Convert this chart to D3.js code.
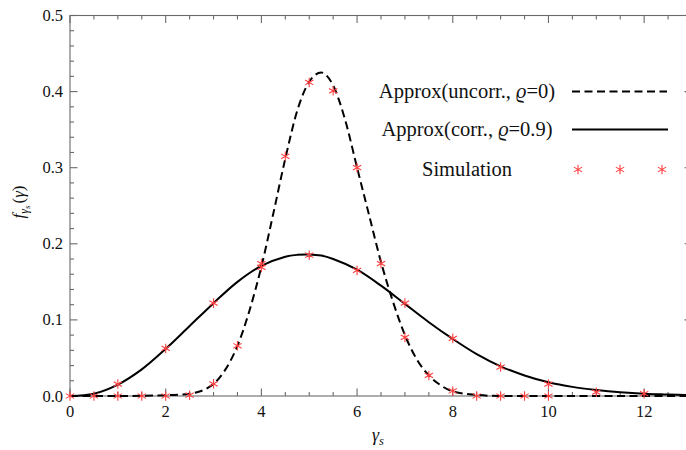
<!DOCTYPE html>
<html>
<head>
<meta charset="utf-8">
<script src="https://cdn.jsdelivr.net/npm/d3@7"></script>
<style>
  html, body { margin: 0; padding: 0; background: #fff; }
  svg { display: block; font-family: "Liberation Serif", "Times New Roman", serif; }
</style>
</head>
<body>
<svg id="chart" width="686" height="450"></svg>
<script>
// PDF of the combined SNR: analytic approximations and simulated samples

// Approximation, uncorrelated branches (rho = 0)
const uncorrX = [0, 1, 2, 2.5, 3, 3.25, 3.5, 3.75, 4, 4.25, 4.5, 4.75, 5, 5.25, 5.5, 5.75, 6, 6.25, 6.5, 6.75, 7, 7.25, 7.5, 7.75, 8, 8.5, 9, 10, 13];
const uncorrY = [0, 0, 0.001, 0.003, 0.016, 0.035, 0.066, 0.112, 0.170, 0.240, 0.312, 0.375, 0.413, 0.425, 0.408, 0.363, 0.300, 0.238, 0.176, 0.124, 0.080, 0.048, 0.027, 0.014, 0.006, 0.0015, 0, 0, 0];

// Approximation, correlated branches (rho = 0.9)
const corrX = [0, 0.5, 1, 1.5, 2, 2.5, 3, 3.5, 4, 4.5, 4.75, 5, 5.25, 5.5, 6, 6.5, 7, 7.5, 8, 8.5, 9, 9.5, 10, 10.5, 11, 11.5, 12, 12.5, 13];
const corrY = [0, 0.003, 0.015, 0.035, 0.062, 0.092, 0.122, 0.150, 0.171, 0.183, 0.1855, 0.186, 0.1845, 0.180, 0.166, 0.145, 0.121, 0.097, 0.075, 0.055, 0.039, 0.027, 0.018, 0.012, 0.008, 0.005, 0.003, 0.002, 0.001];

// Simulation samples
const simUncorrX = [0, 0.5, 1, 1.5, 2, 2.5, 3, 3.5, 4, 4.5, 5, 5.5, 6, 6.5, 7, 7.5, 8, 8.5, 9, 9.5, 10];
const simUncorrY = [0, 0, 0, 0, 0, 0.001, 0.016, 0.066, 0.169, 0.315, 0.412, 0.401, 0.300, 0.174, 0.077, 0.027, 0.0066, 0, 0, 0, 0];
const simCorrX = [1, 2, 3, 4, 5, 6, 7, 8, 9, 10, 11, 12];
const simCorrY = [0.0157, 0.0625, 0.122, 0.174, 0.185, 0.165, 0.122, 0.0757, 0.038, 0.0157, 0.005, 0.003];

// Axes ticks
const xMajorTicks = [0, 2, 4, 6, 8, 10, 12];
const yMajorTicks = [0, 0.1, 0.2, 0.3, 0.4, 0.5];

// Legend entries
const legendLabels = ["Approx(uncorr., ", "Approx(corr., ", "Simulation"];
const legendRho = ["=0)", "=0.9)", null];

const svg = d3.select("#chart");
const pLeft = 70, pRight = 692, pTop = 15.5, pBottom = 396;

const x = d3.scaleLinear().domain([0, 13]).range([pLeft, pRight]);
const y = d3.scaleLinear().domain([0, 0.5]).range([pBottom, pTop]);

const tickColor = "#6a6a6a";

// Frame
svg.append("rect")
  .attr("x", pLeft).attr("y", pTop)
  .attr("width", pRight - pLeft).attr("height", pBottom - pTop)
  .attr("fill", "none").attr("stroke", tickColor).attr("stroke-width", 1.1);

const xMinor = d3.range(0, 13.01, 0.5).filter(v => !xMajorTicks.includes(v));
const yMinor = d3.range(0, 0.501, 0.02).map(v => +v.toFixed(2)).filter(v => !yMajorTicks.some(t => Math.abs(t - v) < 1e-9));

const ticks = svg.append("g").attr("stroke", tickColor).attr("stroke-width", 1.1);
function xTick(v, len) {
  ticks.append("line").attr("x1", x(v)).attr("x2", x(v)).attr("y1", pBottom).attr("y2", pBottom - len);
  ticks.append("line").attr("x1", x(v)).attr("x2", x(v)).attr("y1", pTop).attr("y2", pTop + len);
}
function yTick(v, len) {
  ticks.append("line").attr("y1", y(v)).attr("y2", y(v)).attr("x1", pLeft).attr("x2", pLeft + len);
  ticks.append("line").attr("y1", y(v)).attr("y2", y(v)).attr("x1", pRight).attr("x2", pRight - len);
}
xMajorTicks.forEach(v => xTick(v, 7.5));
xMinor.forEach(v => xTick(v, 4));
yMajorTicks.forEach(v => yTick(v, 7.5));
yMinor.forEach(v => yTick(v, 4));

// Tick labels
svg.append("g").selectAll("text").data(xMajorTicks).join("text")
  .attr("x", d => x(d)).attr("y", pBottom + 21)
  .attr("text-anchor", "middle").attr("font-size", 16.5).attr("fill", "#111")
  .text(d => d);
svg.append("g").selectAll("text").data(yMajorTicks).join("text")
  .attr("x", pLeft - 7).attr("y", d => y(d) + 5.5)
  .attr("text-anchor", "end").attr("font-size", 16.5).attr("fill", "#111")
  .text(d => d3.format(".1f")(d));

// Axis titles
const xt = svg.append("text").attr("x", 378).attr("y", 441)
  .attr("text-anchor", "middle").attr("font-size", 18).attr("fill", "#111");
xt.append("tspan").attr("font-style", "italic").text("γ");
xt.append("tspan").attr("font-style", "italic").attr("font-size", 12.5).attr("dy", 4).text("s");

const yt = svg.append("text").attr("transform", "translate(24,202) rotate(-90)")
  .attr("text-anchor", "middle").attr("font-size", 17).attr("fill", "#111");
yt.append("tspan").attr("font-style", "italic").text("f");
yt.append("tspan").attr("font-style", "italic").attr("font-size", 12).attr("dy", 4).text("γ");
yt.append("tspan").attr("font-style", "italic").attr("font-size", 9).attr("dy", 2).text("s");
yt.append("tspan").attr("dy", -6).attr("dx", 2).text("(");
yt.append("tspan").attr("font-style", "italic").text("γ");
yt.append("tspan").text(")");

// Curves
svg.append("clipPath").attr("id", "clip").append("rect")
  .attr("x", pLeft).attr("y", pTop - 2).attr("width", pRight - pLeft).attr("height", pBottom - pTop + 4);
const plot = svg.append("g").attr("clip-path", "url(#clip)");

const lineSmooth = d3.line().x(d => x(d[0])).y(d => y(d[1])).curve(d3.curveCatmullRom.alpha(0.5));
const lineMono = d3.line().x(d => x(d[0])).y(d => y(d[1])).curve(d3.curveMonotoneX);

plot.append("path").datum(corrX.map((v, i) => [v, corrY[i]]))
  .attr("d", lineSmooth).attr("fill", "none").attr("stroke", "#000").attr("stroke-width", 2);
plot.append("path").datum(uncorrX.map((v, i) => [v, uncorrY[i]]))
  .attr("d", lineMono).attr("fill", "none").attr("stroke", "#000").attr("stroke-width", 2)
  .attr("stroke-dasharray", "8,4.5");

// Simulation markers
const star = d3.symbol().type(d3.symbolAsterisk).size(64);
const simPts = simUncorrX.map((v, i) => [v, simUncorrY[i]])
  .concat(simCorrX.map((v, i) => [v, simCorrY[i]]));
svg.append("g").selectAll("path").data(simPts).join("path")
  .attr("transform", d => `translate(${x(d[0])},${y(d[1])})`)
  .attr("d", star).attr("fill", "none").attr("stroke", "#ff4040").attr("stroke-width", 1.1);

// Legend
const legY = [91.5, 129.5, 169.5];
const lg = svg.append("g");
legendLabels.forEach((lab, i) => {
  const t = lg.append("text").attr("x", 467).attr("y", legY[i] + 6.5)
    .attr("text-anchor", "middle").attr("font-size", 20.5).attr("fill", "#111");
  t.append("tspan").text(lab);
  if (legendRho[i]) {
    t.append("tspan").attr("font-style", "italic").text("ϱ");
    t.append("tspan").text(legendRho[i]);
  }
});
lg.append("line").attr("x1", 572).attr("x2", 667).attr("y1", legY[0]).attr("y2", legY[0])
  .attr("stroke", "#000").attr("stroke-width", 2).attr("stroke-dasharray", "8,4.5");
lg.append("line").attr("x1", 572).attr("x2", 668).attr("y1", legY[1]).attr("y2", legY[1])
  .attr("stroke", "#000").attr("stroke-width", 2);
[578, 620, 662].forEach(px => {
  lg.append("path").attr("transform", `translate(${px},${legY[2]})`)
    .attr("d", star).attr("fill", "none").attr("stroke", "#ff4040").attr("stroke-width", 1.1);
});
</script>
</body>
</html>
